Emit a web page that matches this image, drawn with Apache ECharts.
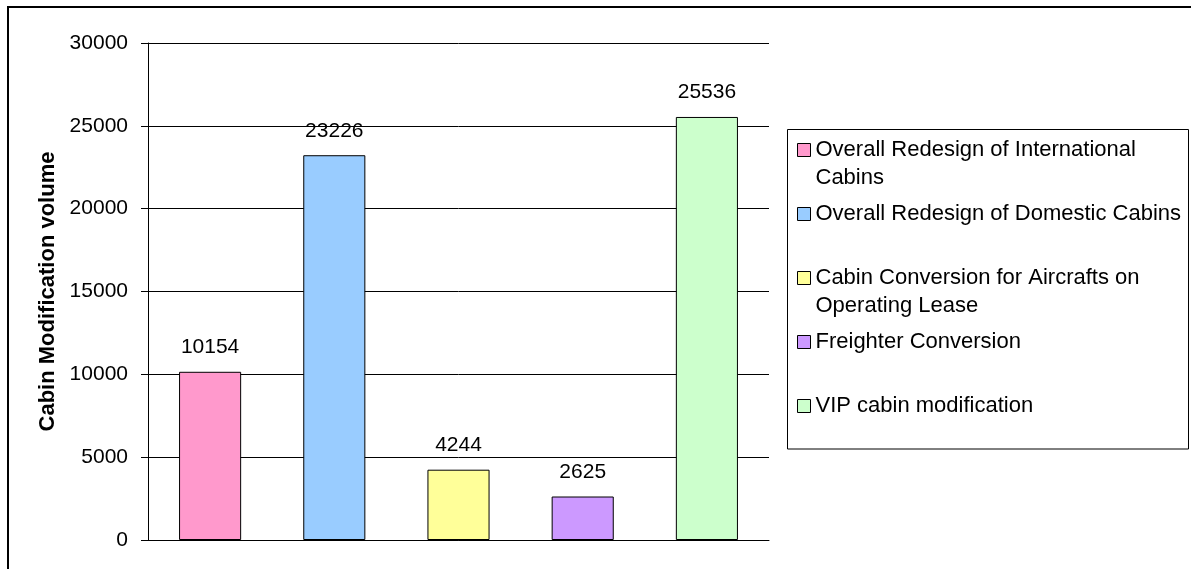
<!DOCTYPE html>
<html>
<head>
<meta charset="utf-8">
<script src="https://cdn.jsdelivr.net/npm/echarts@6/dist/echarts.min.js"></script>
<style>
html,body{margin:0;padding:0;background:#fff;}
#chart{width:1191px;height:569px;}
</style>
</head>
<body>
<div id="chart"></div>
<script>
// ---- Data ----
const categories = [
  'Overall Redesign of International Cabins',
  'Overall Redesign of Domestic Cabins',
  'Cabin Conversion for Aircrafts on Operating Lease',
  'Freighter Conversion',
  'VIP cabin modification'
];
const legendLabels = [
  'Overall Redesign of International\nCabins',
  'Overall Redesign of Domestic Cabins',
  'Cabin Conversion for Aircrafts on\nOperating Lease',
  'Freighter Conversion',
  'VIP cabin modification'
];
const values = [10154, 23226, 4244, 2625, 25536];
const yAxisName = 'Cabin Modification volume';
const yMin = 0, yMax = 30000, yInterval = 5000;

// ---- Style ----
const colors = ['#FF99CC', '#99CCFF', '#FFFF99', '#CC99FF', '#CCFFCC'];
const FONT = "'Liberation Sans', Arial, sans-serif";

const series = categories.map((name, i) => ({
  name: name,
  type: 'bar',
  stack: 'all',
  barWidth: '50%',
  data: values.map((v, j) => (j === i ? v : '-')),
  itemStyle: { color: colors[i], borderColor: '#000', borderWidth: 1 },
  label: {
    show: true, position: 'top', distance: 14,
    color: '#000', fontSize: 21, fontFamily: FONT
  },
  emphasis: { disabled: true }
}));

// Legend text layout: keep the marker on the first line of wrapped labels
function legendText(name) {
  const i = categories.indexOf(name);
  const t = legendLabels[i];
  if (t.indexOf('\n') >= 0) return ' \n' + t;
  if (i === categories.length - 1) return ' \n' + t + '\n ';
  return t;
}

const chart = echarts.init(document.getElementById('chart'), null, { renderer: 'canvas' });
chart.setOption({
  animation: false,
  backgroundColor: '#fff',
  grid: { left: 148, right: 422, top: 43, bottom: 29, containLabel: false },
  xAxis: {
    type: 'category',
    data: categories,
    axisLine: { show: true, lineStyle: { color: '#000', width: 1 } },
    axisTick: { show: false },
    axisLabel: { show: false },
    splitLine: { show: false }
  },
  yAxis: {
    type: 'value',
    min: yMin, max: yMax, interval: yInterval,
    name: yAxisName,
    nameLocation: 'middle',
    nameGap: 87,
    nameTextStyle: { fontSize: 22, fontWeight: 'bold', color: '#000', fontFamily: FONT },
    axisLine: { show: true, lineStyle: { color: '#000', width: 1 } },
    axisTick: { show: true, length: 7, lineStyle: { color: '#000' } },
    axisLabel: { fontSize: 21, color: '#000', margin: 20, fontFamily: FONT,
      formatter: function (v) { return String(v); } },
    splitLine: { show: true, lineStyle: { color: '#000', width: 1 } }
  },
  legend: {
    orient: 'vertical',
    left: 797, top: 108,
    padding: 0,
    itemGap: 8,
    itemWidth: 13, itemHeight: 13,
    icon: 'rect',
    selectedMode: false,
    align: 'left',
    itemStyle: { borderColor: '#000', borderWidth: 1 },
    textStyle: { fontSize: 22, lineHeight: 28, color: '#000', fontFamily: FONT },
    formatter: legendText,
    data: categories
  },
  graphic: [
    {
      type: 'rect', silent: true, z: 100,
      shape: { x: 8, y: 7, width: 1400, height: 800 },
      style: { fill: 'none', stroke: '#000', lineWidth: 2 }
    },
    {
      type: 'rect', silent: true, z: -1,
      shape: { x: 787.5, y: 129.5, width: 401, height: 319.5 },
      style: { fill: '#fff', stroke: '#000', lineWidth: 1 }
    }
  ],
  series: series
});
</script>
</body>
</html>
